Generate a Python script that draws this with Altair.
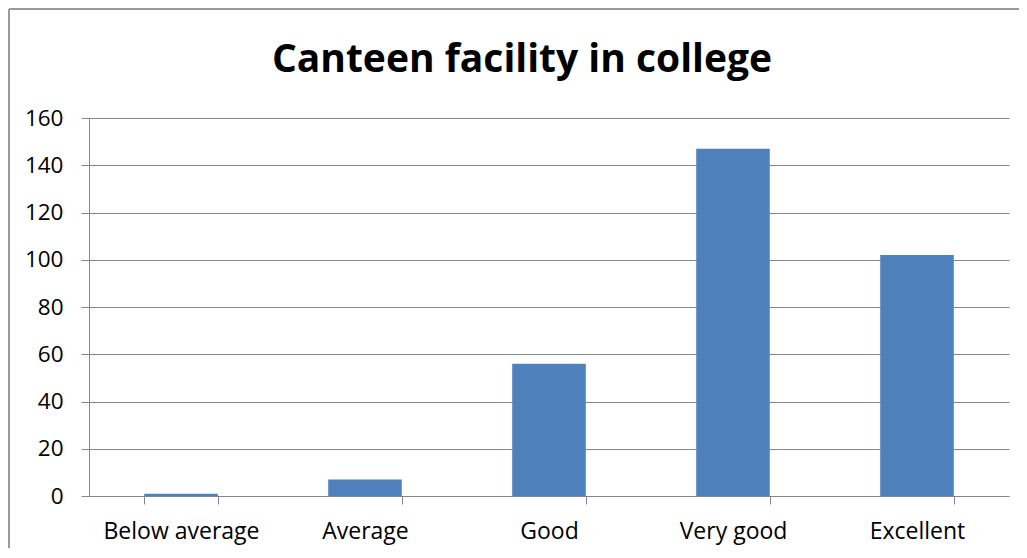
import altair as alt
import pandas as pd

categories = ["Below average", "Average", "Good", "Very good", "Excellent"]
values = [1, 7, 56, 147, 102]
y_ticks = [0, 20, 40, 60, 80, 100, 120, 140, 160]
title_text = "Canteen facility in college"

df = pd.DataFrame({"category": categories, "value": values})

GRID = "#868686"
FONT = "Open Sans"

bars = alt.Chart(df).mark_bar(color="#4F81BD").encode(
    x=alt.X(
        "category:N",
        sort=categories,
        scale=alt.Scale(paddingInner=0.6, paddingOuter=0.3),
        axis=alt.Axis(
            title=None, labelAngle=0, tickBand="extent", grid=False,
            domainColor=GRID, tickColor=GRID, tickSize=8,
            labelFont=FONT, labelFontSize=23, labelColor="black", labelPadding=16,
        ),
    ),
    y=alt.Y(
        "value:Q",
        scale=alt.Scale(domain=[0, 160], nice=False),
        axis=alt.Axis(
            title=None, values=y_ticks, grid=True, gridColor=GRID, gridOpacity=1,
            domainColor=GRID, tickColor=GRID, tickSize=8,
            labelFont=FONT, labelFontSize=22.5, labelColor="black", labelPadding=18,
        ),
    ),
)

single = alt.Data(values=[{"k": 1}])
frame_left = alt.Chart(single).mark_rule(color="#9a9a9a", strokeWidth=2).encode(
    x=alt.value(-80), y=alt.value(-109), y2=alt.value(440)
)
frame_top = alt.Chart(single).mark_rule(color="#9a9a9a", strokeWidth=2).encode(
    x=alt.value(-80), x2=alt.value(930), y=alt.value(-109)
)
title = alt.Chart(single).mark_text(
    text=title_text, font=FONT, fontSize=39, fontWeight="bold", color="black",
    align="center", baseline="alphabetic",
).encode(x=alt.value(433), y=alt.value(-46))

chart = alt.layer(frame_left, frame_top, bars, title).properties(
    width=920,
    height=378,
    autosize="none",
    padding={"left": 81, "top": 110, "right": 10, "bottom": 52},
).configure_view(stroke=None)

chart.save("out.html", embed_options={"renderer": "svg", "actions": False})
